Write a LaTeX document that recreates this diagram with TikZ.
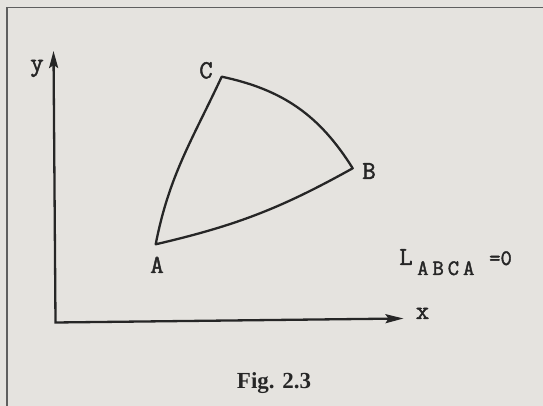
\documentclass[tikz,border=0pt]{standalone}
\usepackage{fontspec}
\setmainfont{Liberation Serif}
\newfontfamily\labfont{Latin Modern Mono}[FakeBold=1.8]
\newfontfamily\labsubfont{Latin Modern Mono}[FakeBold=1.8,LetterSpace=18]
\usetikzlibrary{arrows.meta}
\definecolor{paper}{RGB}{229,227,223}
\definecolor{ink}{RGB}{38,38,38}
\definecolor{framegray}{RGB}{95,95,95}
\tikzset{
  curve/.style={draw=ink, line width=2.3pt, line join=round, line cap=round},
  axis/.style={draw=ink, line width=2.3pt, line join=miter},
  lab/.style={text=ink, font=\labfont\fontsize{26}{26}\selectfont, inner sep=0pt, anchor=base},
  sublab/.style={text=ink, font=\labfont\fontsize{22}{22}\selectfont, inner sep=0pt, anchor=base},
  framestyle/.style={draw=framegray, line width=1.2pt},
}
\begin{document}
\begin{tikzpicture}[x=1pt,y=1pt]
\useasboundingbox (0,0) rectangle (543,406);
\fill[paper] (0,0) rectangle (543,406);
% frame
\coordinate (FL0) at (7,0);
\coordinate (FL1) at (7,398.7);
\coordinate (FR) at (543,398.7);
\draw[framestyle] (FL0) -- (FL1) -- (FR);
% axes
\coordinate (O) at (55.5,83.5);
\coordinate (Ytip) at (53.5,355);
\coordinate (Xtip) at (403.5,87.5);
\draw[axis, arrows={Stealth[length=17pt,width=9pt,inset=3pt]-Stealth[length=18pt,width=9pt,inset=3pt]}] (Ytip) -- (O) -- (Xtip);
% curved triangle
\coordinate (A) at (155.7,161.7);
\coordinate (C) at (221.7,329.3);
\coordinate (B) at (352.7,237.7);
\draw[curve] (A) to[out=79,in=245] (C) to[bend left=23] (B) to[bend left=8] cycle;
% labels
\node[lab] (ly) at (37,335) {y};
\node[lab] (lx) at (422.5,87) {x};
\node[lab] (lA) at (157,133) {A};
\node[lab] (lB) at (369,227) {B};
\node[lab] (lC) at (206,327.7) {C};
\node[lab] (lL) at (406,141) {L};
\node[sublab, font=\labsubfont\fontsize{22}{22}\selectfont, anchor=base west] (lsub) at (417,131) {ABCA};
\node[sublab, anchor=base west] (leq) at (489,141) {=0};
\node[text=ink, font=\bfseries\fontsize{23}{23}\selectfont, inner sep=0pt, anchor=base] (cap) at (274,17.7) {Fig. 2.3};
\end{tikzpicture}
\end{document}
